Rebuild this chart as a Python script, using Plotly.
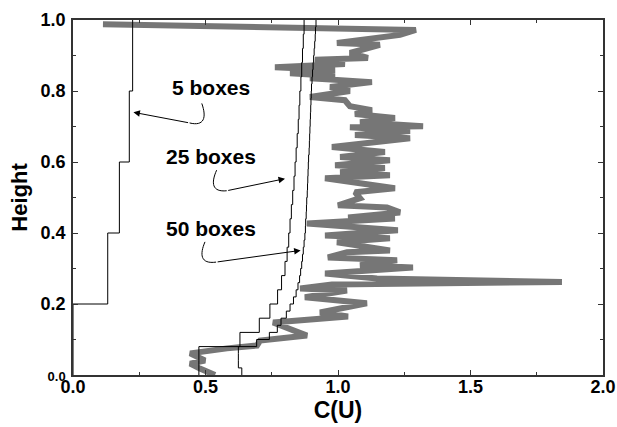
import numpy as np
import plotly.graph_objects as go

# ---------------- data ----------------
# 5 boxes (box averages from bottom to top, each box 0.2 high)
boxes5_values = [0.0, 0.131, 0.175, 0.2125, 0.225]
# 25 boxes (each 0.04 high)
boxes25_values = [0.475, 0.475, 0.63, 0.703, 0.743, 0.772, 0.787, 0.800, 0.808, 0.814,
                  0.819, 0.824, 0.829, 0.834, 0.838, 0.842, 0.846, 0.850, 0.853, 0.856,
                  0.860, 0.863, 0.866, 0.869, 0.872]
# 50 boxes (each 0.02 high)
boxes50_values = [0.637, 0.624, 0.624, 0.624, 0.693, 0.741, 0.771, 0.785, 0.805, 0.819,
                  0.832, 0.842, 0.849, 0.855, 0.859, 0.863, 0.866, 0.869, 0.872, 0.875,
                  0.877, 0.878, 0.880, 0.881, 0.882, 0.884, 0.885, 0.886, 0.887, 0.888,
                  0.889, 0.891, 0.892, 0.893, 0.894, 0.895, 0.896, 0.897, 0.898, 0.899,
                  0.900, 0.902, 0.904, 0.906, 0.908, 0.910, 0.912, 0.914, 0.915, 0.917]

# raw C(U) profile (thick grey line), from top to bottom
raw_height = [0.988, 0.972, 0.958, 0.935, 0.930, 0.907, 0.893, 0.888, 0.876, 0.867,
              0.859, 0.850, 0.842, 0.836, 0.825, 0.811, 0.800, 0.783, 0.774, 0.757,
              0.746, 0.735, 0.724, 0.712, 0.701, 0.698, 0.687, 0.676, 0.667, 0.653,
              0.642, 0.628, 0.614, 0.605, 0.591, 0.583, 0.571, 0.563, 0.554, 0.540,
              0.526, 0.515, 0.498, 0.478, 0.472, 0.458, 0.444, 0.441, 0.427, 0.408,
              0.393, 0.385, 0.374, 0.351, 0.346, 0.331, 0.323, 0.309, 0.303, 0.286,
              0.272, 0.262, 0.255, 0.244, 0.238, 0.219, 0.202, 0.176, 0.165, 0.148,
              0.111, 0.097, 0.083, 0.075, 0.061, 0.041, 0.032, 0.018, 0.0]
raw_cu = [0.113, 1.294, 1.234, 0.996, 1.158, 1.045, 1.113, 0.913, 1.026, 0.762,
          0.989, 0.819, 0.989, 0.894, 1.128, 0.970, 1.045, 0.894, 1.026, 1.045,
          1.128, 1.064, 1.215, 1.083, 1.321, 1.045, 1.272, 1.064, 1.272, 1.121,
          0.977, 1.177, 1.008, 1.196, 0.989, 1.177, 1.008, 1.196, 0.951, 1.083,
          1.215, 1.064, 1.083, 1.000, 1.185, 1.234, 1.038, 1.215, 0.883, 1.226,
          0.951, 1.196, 0.996, 1.196, 1.034, 0.962, 1.223, 1.083, 1.283, 0.951,
          1.147, 1.845, 0.977, 0.857, 1.034, 0.875, 1.109, 0.932, 1.038, 0.755,
          0.883, 0.706, 0.694, 0.581, 0.442, 0.498, 0.442, 0.479, 0.536]

x_ticks = [0.0, 0.5, 1.0, 1.5, 2.0]
y_ticks = [0.0, 0.2, 0.4, 0.6, 0.8, 1.0]

FONT = "Liberation Sans, Arial, sans-serif"


def step_xy(values):
    n = len(values)
    edges = np.linspace(0.0, 1.0, n + 1)
    xs = list(values) + [values[-1]]
    return xs, list(edges)


fig = go.Figure()

fig.add_trace(go.Scatter(x=raw_cu, y=raw_height, mode="lines",
                         line=dict(color="rgb(118,118,118)", width=6),
                         showlegend=False))

for vals in (boxes5_values, boxes25_values, boxes50_values):
    xs, ys = step_xy(vals)
    fig.add_trace(go.Scatter(x=xs, y=ys, mode="lines",
                             line=dict(color="black", width=1, shape="vh"),
                             showlegend=False))

# curved arrow tails
tails = [
    "M 0.486,0.765 C 0.505,0.725 0.495,0.700 0.440,0.710",
    "M 0.542,0.577 C 0.520,0.540 0.525,0.515 0.580,0.519",
    "M 0.498,0.375 C 0.478,0.340 0.480,0.312 0.540,0.318",
]
for p in tails:
    fig.add_shape(type="path", path=p, xref="x", yref="y",
                  line=dict(color="black", width=1))

arrows = [((0.440, 0.710), (0.228, 0.740)),
          ((0.580, 0.519), (0.800, 0.553)),
          ((0.540, 0.318), (0.859, 0.351))]
for (x0, y0), (x1, y1) in arrows:
    fig.add_annotation(x=x1, y=y1, ax=x0, ay=y0, xref="x", yref="y",
                       axref="x", ayref="y", text="", showarrow=True,
                       arrowhead=2, arrowsize=1.3, arrowwidth=1, arrowcolor="black")

labels = [("5 boxes", 0.521, 0.811), ("25 boxes", 0.521, 0.616), ("50 boxes", 0.521, 0.413)]
for t, x, y in labels:
    fig.add_annotation(x=x, y=y, xref="x", yref="y", text="<b>%s</b>" % t,
                       showarrow=False, font=dict(size=21, color="black", family=FONT))

axis_common = dict(showline=True, linecolor="#333", linewidth=1.5, mirror="allticks",
                   ticks="inside", ticklen=5, tickwidth=1, tickcolor="#333",
                   showgrid=False, zeroline=False, automargin=False,
                   tickfont=dict(size=18, color="black", family=FONT))

fig.update_xaxes(range=[0, 2], tickvals=x_ticks,
                 ticktext=["<b>%.1f</b>" % v for v in x_ticks],
                 minor=dict(dtick=0.25, tick0=0, ticks="inside", ticklen=3, tickcolor="#333"),
                 title=dict(text="<b>C(U)</b>", font=dict(size=23, color="black", family=FONT),
                            standoff=0),
                 ticklabelstandoff=-5,
                 **axis_common)
y_text = []
for v in y_ticks:
    if v == 0.0:
        y_text.append('<span style="font-size:13px"><b>0.0</b></span>')
    else:
        y_text.append("<b>%.1f</b>" % v)
fig.update_yaxes(range=[0, 1], tickvals=y_ticks, ticktext=y_text,
                 minor=dict(dtick=0.1, tick0=0, ticks="inside", ticklen=3, tickcolor="#333"),
                 title=dict(text="<b>Height</b>", font=dict(size=22, color="black", family=FONT),
                            standoff=7),
                 ticklabelstandoff=2,
                 **axis_common)

fig.update_layout(width=617, height=427, plot_bgcolor="white", paper_bgcolor="white",
                  margin=dict(l=73, r=14, t=20, b=52), showlegend=False)

# remove the default page margin so the figure fills the window exactly
fig.write_html("out.html", config={"displayModeBar": False},
               post_script="document.body.style.margin='0';document.body.style.overflow='hidden';")
